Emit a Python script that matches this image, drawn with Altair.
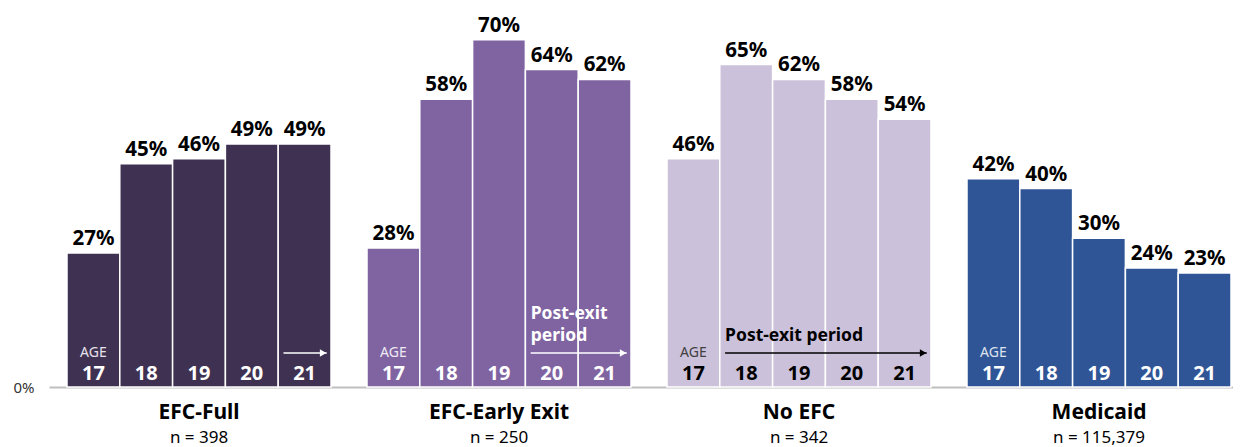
import altair as alt
import pandas as pd

# ---- data ----
groups = ["EFC-Full", "EFC-Early Exit", "No EFC", "Medicaid"]
group_n = ["n = 398", "n = 250", "n = 342", "n = 115,379"]
ages = [17, 18, 19, 20, 21]
efc_full = [27, 45, 46, 49, 49]
efc_early = [28, 58, 70, 64, 62]
no_efc = [46, 65, 62, 58, 54]
medicaid = [42, 40, 30, 24, 23]
series = [efc_full, efc_early, no_efc, medicaid]

# post-exit arrows: group, first age, last age
arrow_groups = ["EFC-Full", "EFC-Early Exit", "No EFC"]
arrow_from = [21, 20, 18]
arrow_to = [21, 21, 21]

# ---- styles ----
colors = ["#3F3151", "#8064A2", "#CCC1DA", "#2F5597"]
inner_text = {"EFC-Full": "#FFFFFF", "EFC-Early Exit": "#FFFFFF", "No EFC": "#000000", "Medicaid": "#FFFFFF"}
age_word = {"EFC-Full": "#E6E1EC", "EFC-Early Exit": "#EEEAF4", "No EFC": "#404040", "Medicaid": "#DDE3EE"}
FONT = "Noto Sans"
GSTEP = 300 / 52.8          # group step in bar units
X_DOM = [-18 / 52.8, (1184 - 18) / 52.8]
Y_DOM = [0, 75]

rows = []
for gi, (g, vals) in enumerate(zip(groups, series)):
    for ai, (a, v) in enumerate(zip(ages, vals)):
        x0 = gi * GSTEP + ai
        rows.append(dict(group=g, age=str(a), pct=v, label=f"{v}%", x0=x0, x1=x0 + 1,
                         xc=x0 + 0.5, zero=0, tcol=inner_text[g], wcol=age_word[g],
                         first=(ai == 0)))
df = pd.DataFrame(rows)

glab = pd.DataFrame(dict(group=groups, n=group_n,
                         xc=[gi * GSTEP + 2.5 for gi in range(len(groups))]))

arr_rows = []
for g, fa, ta in zip(arrow_groups, arrow_from, arrow_to):
    gi = groups.index(g)
    xs = gi * GSTEP + (fa - ages[0]) + 0.1
    xe = gi * GSTEP + (ta - ages[0]) + 0.92
    arr_rows.append(dict(group=g, xs=xs, xe=xe, xh=xe - 0.07, ay=6.85, col=inner_text[g]))
arr = pd.DataFrame(arr_rows)
starts = list(arr["xs"])

post_rows = [
    dict(x=starts[1], y=13.7, t="Post-exit", col=inner_text["EFC-Early Exit"]),
    dict(x=starts[1], y=9.2, t="period", col=inner_text["EFC-Early Exit"]),
    dict(x=starts[2], y=9.2, t="Post-exit period", col=inner_text["No EFC"]),
]
post = pd.DataFrame(post_rows)


def X(field, axis=alt.Undefined):
    return alt.X(field, type="quantitative", scale=alt.Scale(domain=X_DOM, nice=False, zero=False),
                 axis=axis, title=None)


def Y(field, axis=alt.Undefined):
    return alt.Y(field, type="quantitative", scale=alt.Scale(domain=Y_DOM, nice=False),
                 axis=axis, title=None)


base = alt.Chart(df)

bars = base.mark_bar(stroke="white", strokeWidth=1.5).encode(
    x=X("x0"),
    x2="x1",
    y=Y("pct", axis=alt.Axis(values=[0], labelExpr="'0%'", labelFontSize=15, labelPadding=15,
                              labelColor="#333333", labelFont=FONT, ticks=False, domain=False,
                              grid=False)),
    y2="zero:Q",
    color=alt.Color("group:N", scale=alt.Scale(domain=groups, range=colors), legend=None),
)

pct_text = base.mark_text(font=FONT, fontSize=20.5, fontWeight="bold", baseline="alphabetic",
                          dy=-8, color="#000000").encode(
    x=X("xc"), y=Y("pct"), text="label:N")

age_text = base.mark_text(font=FONT, fontSize=20, fontWeight="bold", baseline="alphabetic",
                          dy=-7).encode(
    x=X("xc"), y=Y("zero"), text="age:N", color=alt.Color("tcol:N", scale=None))

age_word_text = base.transform_filter("datum.first").mark_text(
    font=FONT, fontSize=14, baseline="alphabetic", dy=-30).encode(
    x=X("xc"), y=Y("zero"), text=alt.value("AGE"), color=alt.Color("wcol:N", scale=None))

arrow_line = alt.Chart(arr).mark_rule(strokeWidth=1.6).encode(
    x=X("xs"), x2="xe", y=Y("ay"), color=alt.Color("col:N", scale=None))

arrow_head = alt.Chart(arr).mark_point(shape="triangle-right", filled=True, size=55, opacity=1).encode(
    x=X("xh"), y=Y("ay"), color=alt.Color("col:N", scale=None))

post_text = alt.Chart(post).mark_text(font=FONT, fontSize=17.5, fontWeight="bold", align="left",
                                      baseline="alphabetic").encode(
    x=X("x"), y=Y("y"), text="t:N", color=alt.Color("col:N", scale=None))

gname = alt.Chart(glab).mark_text(font=FONT, fontSize=21, fontWeight="bold", baseline="middle",
                                  color="#000000").encode(
    x=X("xc"), y=alt.value(398), text="group:N")

gn = alt.Chart(glab).mark_text(font=FONT, fontSize=17, baseline="middle", color="#000000").encode(
    x=X("xc"), y=alt.value(423), text="n:N")

chart = alt.layer(bars, pct_text, age_text, age_word_text, arrow_line, arrow_head, post_text,
                  gname, gn).properties(
    width=1184, height=372,
    autosize=alt.AutoSizeParams(type="none"),
    padding={"left": 41, "top": 7, "right": 0, "bottom": 64},
).configure(font=FONT).configure_view(stroke=None).configure_axisX(
    labels=False, ticks=False, grid=False, domain=True, domainColor="#BFBFBF", domainWidth=2,
    title=None,
).configure_axisY(
    ticks=False, domain=False, grid=False, labelFontSize=15, labelPadding=15,
    labelColor="#333333", labelFont=FONT, title=None,
)

chart.save("out.html", embed_options={"renderer": "svg", "actions": False})
